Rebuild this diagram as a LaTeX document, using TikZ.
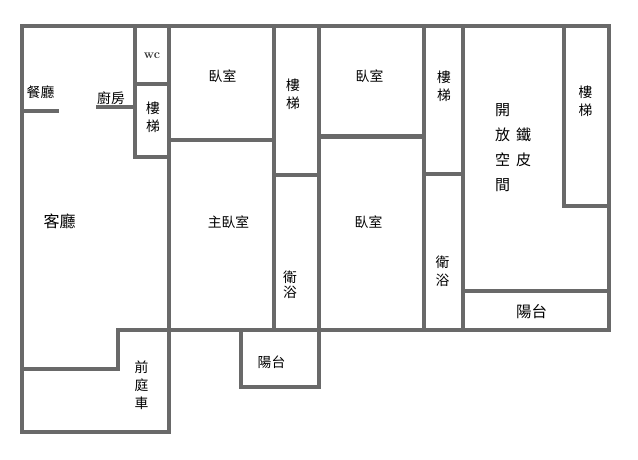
\documentclass[tikz,border=0pt]{standalone}
\usepackage{fontspec}
\usepackage{xcolor}
\newfontfamily\cjk{Noto Sans CJK TC}
\usetikzlibrary{positioning}
\definecolor{wallgray}{HTML}{696969}
\tikzstyle{wall} = [wallgray,line width=4pt,line cap=rect]
\tikzstyle{room} = [inner sep=0pt,align=center,text=black,font=\cjk\fontsize{13.8}{18}\selectfont]
\begin{document}
\begin{tikzpicture}[x=1pt,y=-1pt]
    \useasboundingbox (0,0) rectangle (638,460);
    \draw [wall] (22,26) -- (609,26) -- (609,329.5) -- (118,329.5) -- (118,368.5) -- (22,368.5);
    \draw [wall] (22,26) -- (22,432) -- (169,432) -- (169,26);
    \draw [wall] (22,111.5) -- (57,111.5);
    \draw [wall] (98,107.5) -- (134.5,107.5);
    \draw [wall] (134.5,26) -- (134.5,156.5) -- (169,156.5);
    \draw [wall] (134.5,84.5) -- (169,84.5);
    \draw [wall] (169,139.5) -- (274,139.5);
    \draw [wall] (274,26) -- (274,329.5);
    \draw [wall] (274,174.5) -- (319,174.5);
    \draw [wall] (319,26) -- (319,386.5) -- (241,386.5) -- (241,329.5);
    \draw [wall] (319,136.5) -- (424,136.5);
    \draw [wall] (424,26) -- (424,329.5);
    \draw [wall] (424,173.5) -- (463,173.5);
    \draw [wall] (463,26) -- (463,329.5);
    \draw [wall] (463,291) -- (609,291);
    \draw [wall] (564,26) -- (564,205.5) -- (609,205.5);

    \node (dining) [room] at (40.5,92.5) {餐廳};
    \node (kitchen) [room] at (111,98) {廚房};
    \node (living) [room,font=\cjk\fontsize{16}{18}\selectfont] at (59.5,221.5) {客廳};
    \node (wc) [inner sep=0pt,text=black!80,font=\bfseries\fontsize{12.5}{12}\selectfont] at (152,55.5) {wc};
    \node (stairA) [room] at (153,117.5) {樓\\梯};
    \node (bedA) [room] at (222.5,76.5) {臥室};
    \node (stairB) [room] at (293,94) {樓\\梯};
    \node (master) [room] at (228.5,222.5) {主臥室};
    \node (bathA) [room,font=\cjk\fontsize{13.8}{14.5}\selectfont] at (290,285) {衛\\浴};
    \node (yard) [room] at (141.5,385) {前\\庭\\車};
    \node (balconyA) [room] at (271.5,362) {陽台};
    \node (bedB) [room] at (369.5,76.5) {臥室};
    \node (bedC) [room] at (368.5,222.5) {臥室};
    \node (stairC) [room] at (444,86.5) {樓\\梯};
    \node (bathB) [room] at (442.5,271.5) {衛\\浴};
    \node (open) [room,font=\cjk\fontsize{15}{25}\selectfont] at (502.5,147.5) {開\\放\\空\\間};
    \node (tin) [room,font=\cjk\fontsize{15}{25}\selectfont] at (523.5,147.5) {鐵\\皮};
    \node (stairD) [room] at (585.5,101) {樓\\梯};
    \node (balconyB) [room,font=\cjk\fontsize{15.5}{18}\selectfont] at (531.5,312) {陽台};
\end{tikzpicture}
\end{document}
